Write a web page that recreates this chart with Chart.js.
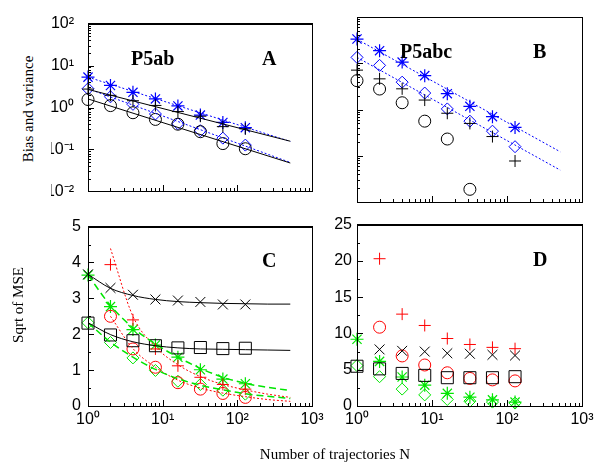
<!DOCTYPE html>
<html>
<head>
<meta charset="utf-8">
<script src="https://cdn.jsdelivr.net/npm/chart.js@4/dist/chart.umd.min.js"></script>
<style>
body { margin: 0; background: #fff; width: 600px; height: 463px; position: relative; overflow: hidden; }
canvas { position: absolute; }
.lbl { position: absolute; font: 15px "Liberation Serif", serif; color: #000; white-space: nowrap; }
#xtitle { left: 335px; top: 446px; transform: translateX(-50%); }
#ytitleA { left: 28px; top: 109px; transform: translate(-50%, -50%) rotate(-90deg); }
#ytitleC { left: 18px; top: 305px; transform: translate(-50%, -50%) rotate(-90deg); }
.frame { position: absolute; box-sizing: border-box; border: 1px solid #000; pointer-events: none; z-index: 5; }
.tk { position: absolute; background: #000; pointer-events: none; z-index: 5; }
</style>
</head>
<body>
<canvas id="pa" width="280" height="215" style="left:51px;top:0"></canvas>
<canvas id="pb" width="280" height="215" style="left:320px;top:0"></canvas>
<canvas id="pc" width="290" height="253" style="left:51px;top:210px"></canvas>
<canvas id="pd" width="280" height="253" style="left:320px;top:210px"></canvas>
<div class="lbl" id="ytitleA">Bias and variance</div>
<div class="lbl" id="ytitleC">Sqrt of MSE</div>
<div class="lbl" id="xtitle">Number of trajectories N</div>
<script>
// number of trajectories
const N = [1, 2, 4, 8, 16, 32, 64, 128]
const fitN = [1, 2, 4, 8, 16, 32, 64, 128, 256, 512]
const lineN = [1, 512]

// tick labels
const xTicks = [1, 10, 100, 1000]
const xTickText = ['10⁰', '10¹', '10²', '10³']
const logYTicks = [0.01, 0.1, 1, 10, 100]
const logYTickText = ['10⁻²', '10⁻¹', '10⁰', '10¹', '10²']
const cYTicks = [0, 1, 2, 3, 4, 5]
const dYTicks = [0, 5, 10, 15, 20, 25]

// panel A (P5ab) bias and variance
const aStar = [5.3, 3.35, 2.3, 1.6, 1.09, 0.66, 0.44, 0.33]
const aDiamond = [2.8, 1.8, 1.19, 0.7, 0.41, 0.28, 0.186, 0.127]
const aCircle = [1.55, 1.11, 0.75, 0.52, 0.40, 0.265, 0.138, 0.104]
const aPlus = [2.75, 1.95, 1.45, 1.12, 0.8, 0.62, 0.35, 0.31]
const aFitBlackUp = [2.7, 0.157]
const aFitBlueUp = [5.3, 0.155]
const aFitBlackLo = [1.6, 0.0475]
const aFitBlueLo = [2.8, 0.049]

// panel B (P5abc)
const bStar = [33.4, 18.7, 10.6, 5.4, 2.2, 1.17, 0.70, 0.41]
const bDiamond = [13.4, 9.0, 3.9, 2.27, 1.03, 0.56, 0.34, 0.157]
const bPlus = [7.1, 4.6, 2.8, 1.6, 0.83, 0.5, 0.26, 0.077]
const bCircle = [4.2, 2.77, 1.4, 0.56, 0.23, 0.0188, null, null]
const bFitUp = [33, 0.122]
const bFitLo = [13.4, 0.049]

// panel C sqrt of MSE
const cX = [3.67, 3.29, 3.10, 2.97, 2.94, 2.90, 2.83, 2.83]
const cSquare = [2.31, 1.98, 1.82, 1.68, 1.62, 1.63, 1.60, 1.61]
const cGreenStar = [3.65, 2.77, 2.13, 1.70, 1.36, 1.01, 0.75, 0.62]
const cGreenDiamond = [2.32, 1.77, 1.34, 0.99, 0.69, 0.60, 0.44, 0.33]
const cRedPlus = [null, 3.94, 2.40, 1.59, 1.12, 0.80, 0.6, 0.47]
const cRedCircle = [null, 2.50, 1.59, 1.08, 0.65, 0.47, 0.35, 0.24]
const cFitX = [3.67, 3.28, 3.08, 2.97, 2.91, 2.88, 2.86, 2.85, 2.84, 2.84]
const cFitSquare = [2.32, 1.99, 1.79, 1.68, 1.62, 1.59, 1.58, 1.57, 1.56, 1.55]
const cFitGreenStar = [3.65, 2.8, 2.18, 1.73, 1.36, 1.05, 0.8, 0.63, 0.52, 0.43]
const cFitGreenDiamond = [2.32, 1.78, 1.36, 1.02, 0.76, 0.58, 0.45, 0.34, 0.27, 0.21]
const cFitRedPlus = [null, 4.39, 2.5, 1.65, 1.15, 0.82, 0.6, 0.45, 0.33, 0.24]
const cFitRedCircle = [null, 2.5, 1.6, 1.08, 0.72, 0.5, 0.36, 0.26, 0.18, 0.13]

// panel D
const dRedPlus = [null, 20.3, 12.66, 11.1, 9.3, 8.48, 8.08, 7.9]
const dRedCircle = [null, 10.86, 6.9, 5.65, 4.58, 3.8, 3.6, 3.46]
const dX = [null, 7.8, 7.6, 7.5, 7.27, 7.2, 7.05, 6.96]
const dSquare = [5.48, 5.12, 4.49, 4.22, 3.9, 3.9, 3.9, 4.04]
const dGreenStar = [9.2, 6.15, 4.0, 2.87, 1.75, 1.21, 0.85, 0.54]
const dGreenDiamond = [5.57, 4.04, 2.33, 1.53, 0.9, 0.67, 0.54, 0.4]

const BLUE = '#0000ff', RED = '#ff0000', GREEN = '#00e600', BLACK = '#000000'

function pts(xs, ys) {
    return xs.map((x, i) => ({x: x, y: ys[i]})).filter(p => p.y != null)
}

function marks(ys, style, color, r, w) {
    return {
        data: pts(N, ys), showLine: false, pointStyle: style, pointRadius: r,
        pointBorderColor: color, pointBackgroundColor: 'rgba(0,0,0,0)',
        pointBorderWidth: w || 1, clip: false
    }
}

function fit(xs, ys, color, dash, w) {
    return {
        data: pts(xs, ys), showLine: true, pointRadius: 0, borderColor: color,
        borderDash: dash, borderWidth: w || 1, fill: false,
        cubicInterpolationMode: 'monotone'
    }
}

// tick mark positions (labelled ones + minor ones)
const xAll = []
for (let k of [1, 10, 100]) for (let m = 1; m <= 9; m++) xAll.push(m * k)
xAll.push(1000)
const logYAll = []
for (let k of [0.01, 0.1, 1, 10]) for (let m = 1; m <= 9; m++) logYAll.push(m * k)
logYAll.push(100)
const cYAll = [0, 0.5, 1, 1.5, 2, 2.5, 3, 3.5, 4, 4.5, 5]
const dYAll = [0, 2.5, 5, 7.5, 10, 12.5, 15, 17.5, 20, 22.5, 25]

// panel labels
const panelPlugin = {
    id: 'panel',
    afterDatasetsDraw(chart) {
        const o = chart.options.plugins.panel
        const ctx = chart.ctx
        const a = chart.chartArea
        ctx.save()
        ctx.fillStyle = 'black'
        ctx.font = 'bold 20px "Liberation Serif", serif'
        ctx.textBaseline = 'alphabetic'
        o.labels.forEach(lb => ctx.fillText(lb[0], a.left + lb[1], a.top + lb[2]))
        ctx.restore()
    }
}

//box and inward ticks laid over the canvas, placed with the chart's own scales
function addFrame(chart, c) {
    const cv = chart.canvas
    const ox = cv.offsetLeft, oy = cv.offsetTop
    const a = chart.chartArea
    const l = Math.round(a.left), t = Math.round(a.top)
    const r = Math.round(a.right), b = Math.round(a.bottom)
    const box = document.createElement('div')
    box.className = 'frame'
    box.style.left = (ox + l) + 'px'
    box.style.top = (oy + t) + 'px'
    box.style.width = (r - l + 1) + 'px'
    box.style.height = (b - t + 1) + 'px'
    document.body.appendChild(box)
    const tick = (x, y, w, h) => {
        const d = document.createElement('div')
        d.className = 'tk'
        d.style.cssText = `left:${x}px;top:${y}px;width:${w}px;height:${h}px`
        document.body.appendChild(d)
    }
    xAll.forEach(v => {
        const len = xTicks.indexOf(v) < 0 ? 3 : 6
        tick(ox + Math.round(chart.scales.x.getPixelForValue(v)), oy + b - len, 1, len)
    })
    c.yAll.forEach(v => {
        const len = c.yTicks.indexOf(v) < 0 ? 3 : 6
        tick(ox + l, oy + Math.round(chart.scales.y.getPixelForValue(v)), len, 1)
    })
}

const tickFont = {family: '"Liberation Sans", Arial, sans-serif', size: 16}
const noGrid = {display: false, drawTicks: false}
const frameBorder = {display: true, color: '#000', width: 1}

function makeChart(id, datasets, c) {
    const logType = c.logY ? 'logarithmic' : 'linear'
    const chart = new Chart(document.getElementById(id).getContext('2d'), {
        type: 'scatter',
        data: {datasets: datasets},
        options: {
            responsive: false,
            animation: false,
            layout: {padding: c.pad, autoPadding: false},
            plugins: {
                legend: {display: false},
                tooltip: {enabled: false},
                panel: {labels: c.labels}
            },
            scales: {
                x: {
                    type: 'logarithmic', min: 1, max: 1000, position: 'bottom',
                    afterBuildTicks: s => { s.ticks = xTicks.map(v => ({value: v})) },
                    afterFit: s => { s.height = c.showX ? 30 : 0 },
                    ticks: {
                        display: c.showX,
                        callback: v => xTickText[xTicks.indexOf(v)],
                        font: tickFont, color: '#000', padding: 4,
                        maxRotation: 0, autoSkip: false
                    },
                    grid: noGrid,
                    border: frameBorder
                },
                x2: {
                    type: 'logarithmic', min: 1, max: 1000, position: 'top',
                    afterFit: s => { s.height = 0 },
                    ticks: {display: false},
                    grid: {display: false},
                    border: frameBorder
                },
                y: {
                    type: logType, min: c.yMin, max: c.yMax, position: 'left',
                    afterBuildTicks: s => { s.ticks = c.yTicks.map(v => ({value: v})) },
                    afterFit: s => { s.width = 37 },
                    ticks: {
                        display: c.showY,
                        callback: v => c.yText[c.yTicks.indexOf(v)],
                        font: tickFont, color: '#000', padding: c.yPad, autoSkip: false
                    },
                    grid: noGrid,
                    border: frameBorder
                },
                y2: {
                    type: logType, min: c.yMin, max: c.yMax, position: 'right',
                    afterFit: s => { s.width = 0 },
                    ticks: {display: false},
                    grid: {display: false},
                    border: frameBorder
                }
            }
        },
        plugins: [panelPlugin]
    })
    addFrame(chart, c)
    return chart
}

// canvases of A and C start at x=51, so their plot areas begin at 88
makeChart('pa', [
    fit(lineN, aFitBlackUp, BLACK, [], 1),
    fit(lineN, aFitBlackLo, BLACK, [], 1),
    fit(lineN, aFitBlueUp, BLUE, [2, 2], 1),
    fit(lineN, aFitBlueLo, BLUE, [2, 2], 1),
    marks(aCircle, 'circle', BLACK, 6, 1),
    marks(aPlus, 'cross', BLACK, 6, 1),
    marks(aDiamond, 'rectRot', BLUE, 6, 1),
    marks(aStar, 'star', BLUE, 6.5, 1.2)
], {
    logY: true, yMin: 0.01, yMax: 100, showY: true, showX: false,
    yTicks: logYTicks, yText: logYTickText, yAll: logYAll, yPad: 14,
    pad: {left: 0, right: 19, top: 17, bottom: 13},
    labels: [['P5ab', 43, 41], ['A', 174, 41]]
})

makeChart('pb', [
    fit(lineN, bFitUp, BLUE, [2, 2], 1),
    fit(lineN, bFitLo, BLUE, [2, 2], 1),
    marks(bCircle, 'circle', BLACK, 6, 1),
    marks(bPlus, 'cross', BLACK, 6, 1),
    marks(bDiamond, 'rectRot', BLUE, 6, 1),
    marks(bStar, 'star', BLUE, 6.5, 1.2)
], {
    logY: true, yMin: 0.01, yMax: 100, showY: false, showX: false,
    yTicks: logYTicks, yText: logYTickText, yAll: logYAll, yPad: 0,
    pad: {left: 0, right: 18, top: 17, bottom: 13},
    labels: [['P5abc', 43, 41], ['B', 176, 41]]
})

makeChart('pc', [
    fit(fitN, cFitX, BLACK, [], 1),
    fit(fitN, cFitSquare, BLACK, [], 1),
    fit(fitN, cFitGreenStar, GREEN, [7, 4], 1.5),
    fit(fitN, cFitGreenDiamond, GREEN, [7, 4], 1.5),
    fit(fitN, cFitRedPlus, RED, [2, 2], 1),
    fit(fitN, cFitRedCircle, RED, [2, 2], 1),
    marks(cX, 'crossRot', BLACK, 7, 1),
    marks(cSquare, 'rect', BLACK, 8.5, 1),
    marks(cRedCircle, 'circle', RED, 6, 1),
    marks(cRedPlus, 'cross', RED, 6, 1),
    marks(cGreenDiamond, 'rectRot', GREEN, 6, 1),
    marks(cGreenStar, 'star', GREEN, 6.5, 1.2)
], {
    logY: false, yMin: 0, yMax: 5, showY: true, showX: true,
    yTicks: cYTicks, yText: cYTicks.map(String), yAll: cYAll, yPad: 7,
    pad: {left: 0, right: 29, top: 10, bottom: 27},
    labels: [['C', 174, 40]]
})

makeChart('pd', [
    marks(dX, 'crossRot', BLACK, 7, 1),
    marks(dSquare, 'rect', BLACK, 8.5, 1),
    marks(dRedCircle, 'circle', RED, 6, 1),
    marks(dRedPlus, 'cross', RED, 6, 1),
    marks(dGreenDiamond, 'rectRot', GREEN, 6, 1),
    marks(dGreenStar, 'star', GREEN, 6.5, 1.2)
], {
    logY: false, yMin: 0, yMax: 25, showY: true, showX: true,
    yTicks: dYTicks, yText: dYTicks.map(String), yAll: dYAll, yPad: 5,
    pad: {left: 0, right: 18, top: 10, bottom: 27},
    labels: [['D', 176, 41]]
})
</script>
</body>
</html>
